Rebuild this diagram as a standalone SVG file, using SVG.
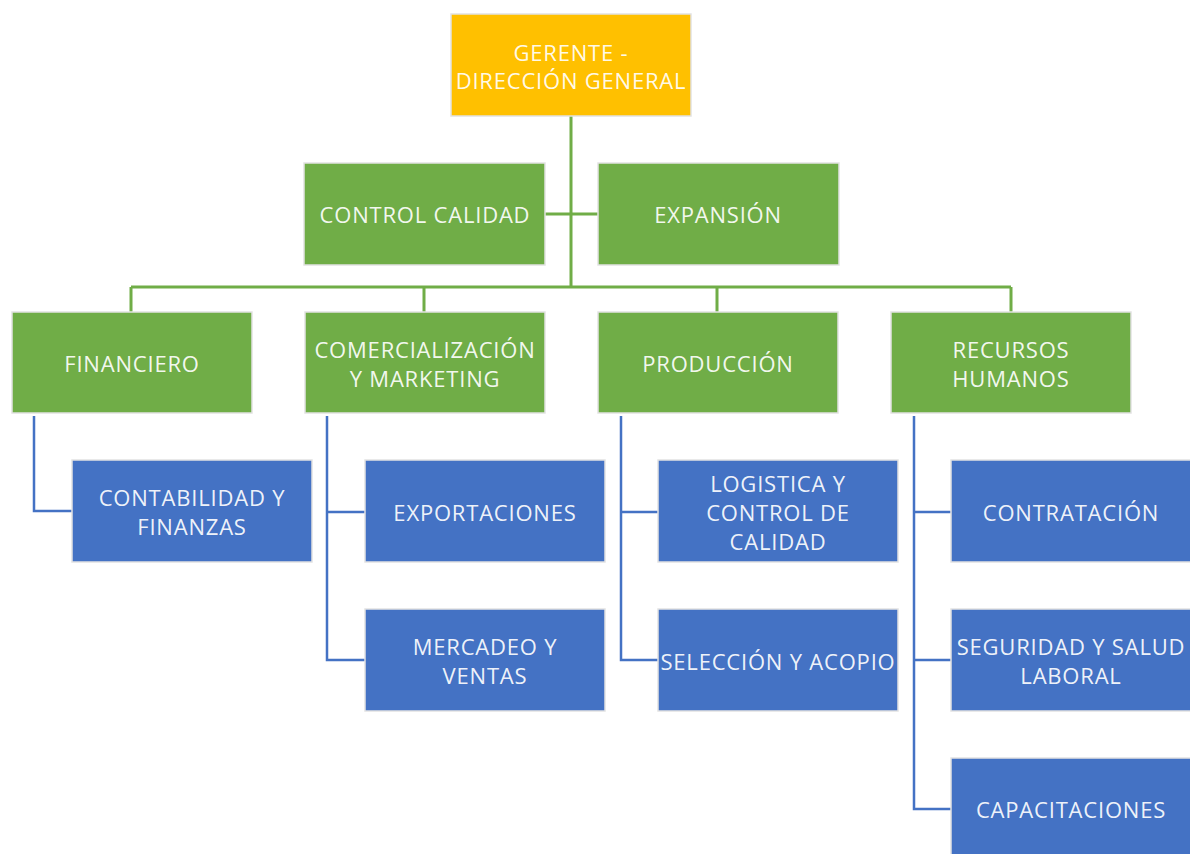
<svg xmlns="http://www.w3.org/2000/svg" width="1190" height="854" viewBox="0 0 1190 854">
<style>
.box{stroke:#e2e2e2;stroke-width:1.5}
.y{fill:#FFC000}.g{fill:#70AD47}.b{fill:#4472C4}
text{font-family:"Open Sans","Liberation Sans",sans-serif;font-size:22px;letter-spacing:0.8px;fill:#ffffff;fill-opacity:0.93;text-anchor:middle;dominant-baseline:central}
.gc{fill:none;stroke:#70AD47;stroke-width:3}
.bc{fill:none;stroke:#4472C4;stroke-width:2.5}
</style>
<rect width="1190" height="854" fill="#ffffff"/>
<g id="connectors">
<path class="gc" d="M571 116V287M131 287H1011M131 287V312M424 287V312M717 287V312M1011 287V312M545 214H598"/>
<path class="bc" d="M34 416V511H72"/>
<path class="bc" d="M327 416V660H365M327 512H365"/>
<path class="bc" d="M621 416V660H658M621 512H658"/>
<path class="bc" d="M914 416V809H951M914 512H951M914 660H951"/>
</g>
<g id="gerente"><rect class="box y" x="451" y="14" width="240" height="102"/><text x="571" y="52">GERENTE -</text><text x="571" y="80">DIRECCIÓN GENERAL</text></g>
<g id="control-calidad"><rect class="box g" x="304" y="163" width="241" height="102"/><text x="425" y="214">CONTROL CALIDAD</text></g>
<g id="expansion"><rect class="box g" x="598" y="163" width="241" height="102"/><text x="718" y="214">EXPANSIÓN</text></g>
<g id="financiero"><rect class="box g" x="12" y="312" width="240" height="101"/><text x="132" y="363">FINANCIERO</text></g>
<g id="comercializacion"><rect class="box g" x="305" y="312" width="240" height="101"/><text x="425" y="349">COMERCIALIZACIÓN</text><text x="425" y="378">Y MARKETING</text></g>
<g id="produccion"><rect class="box g" x="598" y="312" width="240" height="101"/><text x="718" y="363">PRODUCCIÓN</text></g>
<g id="recursos-humanos"><rect class="box g" x="891" y="312" width="240" height="101"/><text x="1011" y="349">RECURSOS</text><text x="1011" y="378">HUMANOS</text></g>
<g id="contabilidad"><rect class="box b" x="72" y="460" width="240" height="102"/><text x="192" y="497">CONTABILIDAD Y</text><text x="192" y="526">FINANZAS</text></g>
<g id="exportaciones"><rect class="box b" x="365" y="460" width="240" height="102"/><text x="485" y="512">EXPORTACIONES</text></g>
<g id="mercadeo"><rect class="box b" x="365" y="609" width="240" height="102"/><text x="485" y="646">MERCADEO Y</text><text x="485" y="675">VENTAS</text></g>
<g id="logistica"><rect class="box b" x="658" y="460" width="240" height="102"/><text x="778" y="483">LOGISTICA Y</text><text x="778" y="512">CONTROL DE</text><text x="778" y="541">CALIDAD</text></g>
<g id="seleccion"><rect class="box b" x="658" y="609" width="240" height="102"/><text x="778" y="661">SELECCIÓN Y ACOPIO</text></g>
<g id="contratacion"><rect class="box b" x="951" y="460" width="242" height="102"/><text x="1071" y="512">CONTRATACIÓN</text></g>
<g id="seguridad"><rect class="box b" x="951" y="609" width="242" height="102"/><text x="1071" y="646">SEGURIDAD Y SALUD</text><text x="1071" y="675">LABORAL</text></g>
<g id="capacitaciones"><rect class="box b" x="951" y="758" width="242" height="100"/><text x="1071" y="809">CAPACITACIONES</text></g>
</svg>
